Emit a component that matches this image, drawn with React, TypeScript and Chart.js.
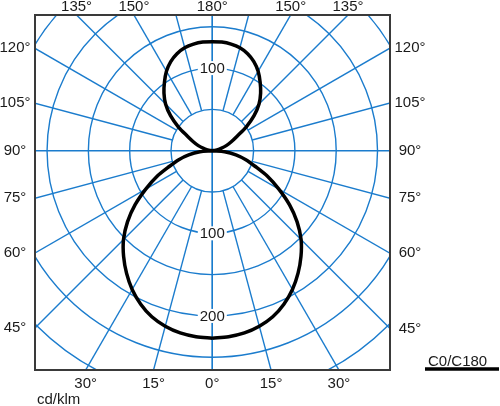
import React, { useEffect, useRef } from "react";
import { Chart, registerables } from "chart.js";

Chart.register(...registerables);

// gamma angles (0° = straight down, 180° = straight up), C0/C180 plane
const gammaDeg = [
  0, 5, 10, 15, 20, 25, 30, 35, 40, 45, 50, 55, 60, 65, 70, 75, 80, 85, 90,
  95, 100, 105, 110, 115, 120, 125, 130, 135, 140, 145, 150, 155, 160, 165, 170, 175, 180,
];
// luminous intensity in cd/klm
const intensityC0C180 = [
  227, 226, 224, 220, 214, 205, 194, 181, 167, 152, 134, 114, 93, 74, 55, 42, 29, 15, 0,
  3, 6, 11, 18, 25, 34, 50, 66, 80, 91, 101, 111, 119, 125, 129, 131, 132, 132,
];

const gridRadii = [50, 100, 150, 200, 250, 300];
const spokeAngles = [15, 30, 45, 60, 75, 105, 120, 135, 150, 165];
const axisAngles = [0, 90, 180];
const upperRingLabels = [100];
const lowerRingLabels = [100, 200];
const sideTickAngles = [45, 60, 75, 90, 105, 120];
const topTickAngles = [135, 150, 180];
const bottomTickAngles = [0, 15, 30];
const unitLabel = "cd/klm";
const legendLabel = "C0/C180";

const BLUE = "#1b7ccd";
const FONT = '15px "Liberation Sans", Arial, sans-serif';
const TEXT = "#1a1a1a";

function buildCurve() {
  const pts: { x: number; y: number }[] = [];
  const rad = (d: number) => (d * Math.PI) / 180;
  for (let i = 0; i < gammaDeg.length; i++) {
    const g = rad(gammaDeg[i]);
    const I = intensityC0C180[i];
    pts.push({ x: I * Math.sin(g), y: -I * Math.cos(g) });
  }
  for (let i = gammaDeg.length - 2; i >= 0; i--) {
    const g = rad(gammaDeg[i]);
    const I = intensityC0C180[i];
    pts.push({ x: -I * Math.sin(g), y: -I * Math.cos(g) });
  }
  return pts;
}

const polarPlugin = {
  id: "polarGrid",
  beforeDatasetsDraw(chart: any) {
    const { ctx, chartArea: a, scales } = chart;
    const xs = scales.x;
    const ys = scales.y;
    const cx = xs.getPixelForValue(0);
    const cy = ys.getPixelForValue(0);
    const ppu = (xs.getPixelForValue(100) - cx) / 100;
    ctx.save();
    ctx.beginPath();
    ctx.rect(a.left, a.top, a.right - a.left, a.bottom - a.top);
    ctx.clip();
    ctx.strokeStyle = BLUE;
    ctx.lineWidth = 1.4;
    for (const r of gridRadii) {
      ctx.beginPath();
      ctx.arc(cx, cy, r * ppu, 0, Math.PI * 2);
      ctx.stroke();
    }
    const drawSpoke = (deg: number, r0: number) => {
      const g = (deg * Math.PI) / 180;
      for (const s of [-1, 1]) {
        const dx = s * Math.sin(g);
        const dy = Math.cos(g);
        ctx.beginPath();
        ctx.moveTo(cx + dx * r0, cy + dy * r0);
        ctx.lineTo(cx + dx * 1000, cy + dy * 1000);
        ctx.stroke();
      }
    };
    for (const d of spokeAngles) drawSpoke(d, gridRadii[0] * ppu);
    for (const d of axisAngles) drawSpoke(d, 0);
    ctx.restore();

    // ring value labels
    ctx.save();
    ctx.font = FONT;
    ctx.textAlign = "center";
    ctx.textBaseline = "middle";
    const label = (v: number, yPix: number) => {
      const t = String(v);
      const w = ctx.measureText(t).width + 4;
      ctx.fillStyle = "#ffffff";
      ctx.fillRect(cx - w / 2, yPix - 7, w, 14);
      ctx.fillStyle = TEXT;
      ctx.fillText(t, cx, yPix + 1);
    };
    for (const v of upperRingLabels) label(v, cy - v * ppu);
    for (const v of lowerRingLabels) label(v, cy + v * ppu);
    ctx.restore();
  },
  afterDraw(chart: any) {
    const { ctx, chartArea: a, scales } = chart;
    const cx = scales.x.getPixelForValue(0);
    const cy = scales.y.getPixelForValue(0);
    ctx.save();
    // frame
    ctx.strokeStyle = "#3a3a3a";
    ctx.lineWidth = 2;
    ctx.strokeRect(a.left, a.top, a.right - a.left, a.bottom - a.top);

    ctx.font = FONT;
    ctx.fillStyle = TEXT;
    ctx.textAlign = "center";
    ctx.textBaseline = "middle";
    const rad = (d: number) => (d * Math.PI) / 180;
    for (const d of sideTickAngles) {
      const g = rad(d);
      const tL = (cx - a.left) / Math.sin(g);
      const yL = cy + tL * Math.cos(g);
      ctx.fillText(d + "°", a.left - 20, yL);
      const tR = (a.right - cx) / Math.sin(g);
      const yR = cy + tR * Math.cos(g);
      ctx.fillText(d + "°", a.right + 20, yR);
    }
    for (const d of topTickAngles) {
      const g = rad(d);
      const t = (cy - a.top) / -Math.cos(g);
      const off = t * Math.sin(g);
      ctx.fillText(d + "°", cx - off, a.top - 8);
      if (off > 1) ctx.fillText(d + "°", cx + off, a.top - 8);
    }
    for (const d of bottomTickAngles) {
      const g = rad(d);
      const t = (a.bottom - cy) / Math.cos(g);
      const off = t * Math.sin(g);
      ctx.fillText(d + "°", cx - off, a.bottom + 14);
      if (off > 1) ctx.fillText(d + "°", cx + off, a.bottom + 14);
    }
    ctx.textAlign = "left";
    ctx.textBaseline = "alphabetic";
    ctx.fillText(unitLabel, 37, 404);
    ctx.fillText(legendLabel, 428, 366);
    ctx.strokeStyle = "#000";
    ctx.lineWidth = 3.5;
    ctx.beginPath();
    ctx.moveTo(425, 369);
    ctx.lineTo(499, 369);
    ctx.stroke();
    ctx.restore();
  },
};

export default function App() {
  const ref = useRef<HTMLCanvasElement | null>(null);
  useEffect(() => {
    document.body.style.margin = "0";
    const canvas = ref.current;
    if (!canvas) return;
    const chart = new Chart(canvas, {
      type: "scatter",
      data: {
        datasets: [
          {
            label: legendLabel,
            data: buildCurve(),
            showLine: true,
            borderColor: "#000000",
            borderWidth: 3.5,
            pointRadius: 0,
            tension: 0.3,
            fill: false,
          },
        ],
      },
      options: {
        animation: false,
        responsive: false,
        devicePixelRatio: 1,
        layout: { padding: { left: 35, top: 15, right: 110, bottom: 36 } },
        plugins: { legend: { display: false }, tooltip: { enabled: false } },
        scales: {
          x: { type: "linear", display: false, min: -214.6, max: 215.1 },
          y: { type: "linear", display: false, min: -265.5, max: 164.3 },
        },
      },
      plugins: [polarPlugin],
    });
    return () => chart.destroy();
  }, []);
  return (
    <canvas
      ref={ref}
      width={500}
      height={406}
      style={{ display: "block", width: 500, height: 406 }}
    />
  );
}
